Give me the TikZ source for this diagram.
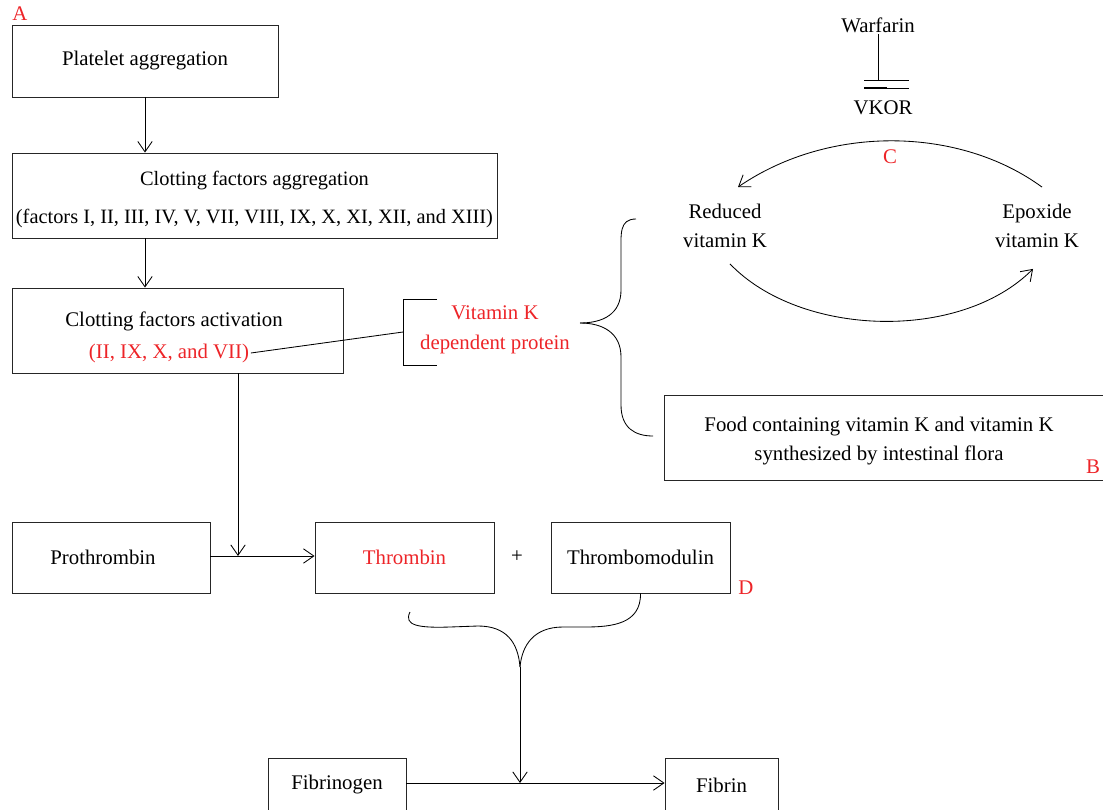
\documentclass[tikz,border=0pt]{standalone}
\usepackage{fontspec}
\setmainfont{Liberation Serif}
\usetikzlibrary{arrows.meta}
\definecolor{labred}{RGB}{237,36,40}
\begin{document}
\begin{tikzpicture}[
    x=0.025cm, y=-0.025cm,
    >={Straight Barb[length=2.6mm, width=3.6mm]},
    line width=0.6pt,
    box/.style={rectangle, draw=black!85, align=center, font=\fontsize{14.8}{20}\selectfont},
    txt/.style={align=center, font=\fontsize{14.8}{21}\selectfont, inner sep=1pt},
    redtxt/.style={txt, text=labred},
    tag/.style={text=labred, font=\fontsize{14.8}{17}\selectfont, inner sep=0pt}
]
    \useasboundingbox (0,0) rectangle (1103,809);

    % left column
    \node[tag] (tagA) at (20,14) {A};
    \node[box, minimum width=6.65cm, minimum height=1.8cm] (platelet) at (145,61) {Platelet aggregation};
    \node[box, minimum width=12.125cm, minimum height=2.125cm] (aggr) at (254.5,195.5) {};
    \node[txt, font=\fontsize{14.5}{21}\selectfont] (aggrtxt) at (254.5,199.5)
        {Clotting factors aggregation\\[6pt](factors I, II, III, IV, V, VII, VIII, IX, X, XI, XII, and XIII)};
    \node[box, minimum width=8.275cm, minimum height=2.125cm] (activ) at (177.5,330.5) {};
    \node[txt] (activtxt) at (174,321) {Clotting factors activation};
    \node[redtxt] (factred) at (169,353) {(II, IX, X, and VII)};

    \draw[->] (platelet.south) -- (platelet.south |- aggr.north);
    \draw[->] (platelet.south |- aggr.south) -- (platelet.south |- activ.north);

    % vitamin K dependent protein
    \node[redtxt] (vkprot) at (495,330) {Vitamin K\\dependent protein};
    \coordinate (brk) at (403,332);
    \draw (437,299) -- (403,299) -- (403,365) -- (437,365);
    \draw (factred.east) -- (brk);

    % brace
    \coordinate (brtip) at (580,323);
    \draw (636,219) .. controls (619,219) and (621,234) .. (621,255) -- (621,290)
        .. controls (621,314) and (603,323) .. (brtip);
    \draw (brtip) .. controls (603,323) and (621,333) .. (621,357) -- (621,405)
        .. controls (621,428) and (635,436) .. (653,436);

    % vitamin K cycle
    \node[txt] (warf) at (878,25) {Warfarin};
    \coordinate (inh) at (878,80);
    \draw (warf.south) -- (inh);
    \draw (864,80) -- (909,80);
    \draw[line width=1.6pt] (864,88) -- (887,88);
    \draw (887,88) -- (909,88);
    \node[txt] (vkor) at (883,108) {VKOR};

    \node[txt] (reduced) at (725,226) {Reduced\\vitamin K};
    \node[txt] (epox) at (1037,226) {Epoxide\\vitamin K};
    \node[tag] (tagC) at (890,157) {C};
    \draw[->] ([shift={(5,-15)}]epox.north) .. controls (960,127) and (830,124) .. ([shift={(13,-15)}]reduced.north);
    \draw[->] ([shift={(5,14)}]reduced.south) .. controls (800,337) and (960,342) .. ([shift={(-4,19)}]epox.south);

    \node[box, minimum width=11.125cm, minimum height=2.125cm] (food) at (887,437.5) {};
    \node[txt] (foodtxt) at (879,441) {Food containing vitamin K and vitamin K\\synthesized by intestinal flora};
    \node[tag] (tagB) at (1093,467) {B};

    % thrombin row
    \node[box, minimum width=4.95cm, minimum height=1.775cm] (prothro) at (111,557.5) {};
    \node[txt] (prothrotxt) at (103,557) {Prothrombin};
    \node[box, minimum width=4.475cm, minimum height=1.775cm, text=labred] (thrombin) at (404.5,557.5) {Thrombin};
    \node[txt] (plus) at (517,557) {+};
    \node[box, minimum width=4.475cm, minimum height=1.775cm] (thrmod) at (640.5,557.5) {Thrombomodulin};
    \node[tag] (tagD) at (746,588) {D};

    \coordinate (jn1) at (238,556);
    \draw[->] (activ.south -| jn1) -- (jn1);
    \draw[->] (prothro.east |- jn1) -- (thrombin.west |- jn1);

    % merge into fibrin
    \coordinate (ytip) at (520,667);
    \draw (410,612) .. controls (403,626) and (420,628) .. (450,627) -- (478,626)
        .. controls (506,626) and (518,642) .. (ytip);
    \draw (thrmod.south) .. controls (641,624) and (612,627) .. (585,627) -- (563,627)
        .. controls (534,627) and (522,645) .. (ytip);

    \node[box, minimum width=3.45cm, minimum height=1.3cm] (fibgen) at (337,784) {};
    \node[txt] (fibgentxt) at (337,785) {Fibrinogen};
    \node[box, minimum width=2.825cm, minimum height=1.3cm] (fibrin) at (721.5,784) {};
    \node[txt] (fibrintxt) at (721.5,785) {Fibrin};
    \coordinate (jn2) at (520,783);
    \draw[->] (ytip) -- (jn2);
    \draw[->] (fibgen.east |- jn2) -- (fibrin.west |- jn2);
\end{tikzpicture}
\end{document}
